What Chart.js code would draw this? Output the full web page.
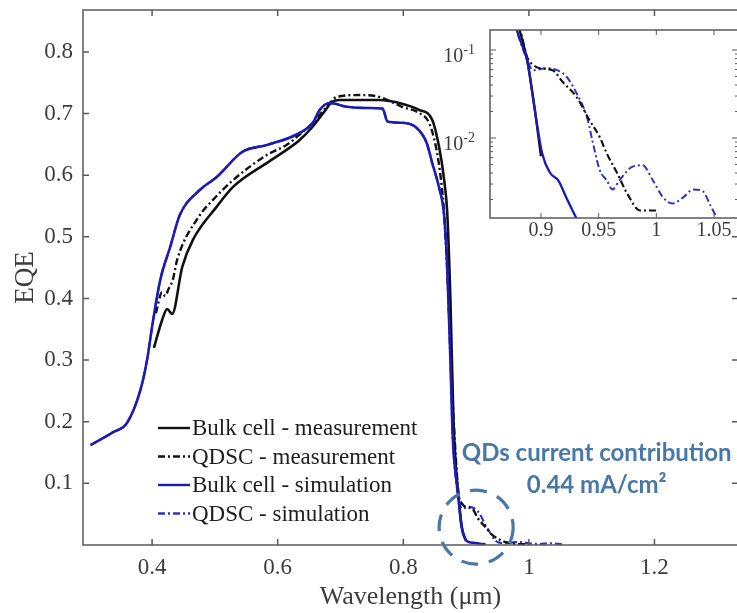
<!DOCTYPE html>
<html>
<head>
<meta charset="utf-8">
<script src="https://cdn.jsdelivr.net/npm/chart.js@4.4.0/dist/chart.umd.min.js"></script>
<style>
  html, body { margin: 0; padding: 0; background: #fff; overflow: hidden; }
  #wrap { position: relative; width: 737px; height: 613px; overflow: hidden; background: #fff; }
  #main { position: absolute; left: 0; top: 0; width: 745px; height: 613px; }
  #inset { position: absolute; left: 400px; top: 0; width: 345px; height: 260px; }
</style>
</head>
<body>
<div id="wrap">
  <canvas id="main" width="745" height="613"></canvas>
  <canvas id="inset" width="345" height="260"></canvas>
</div>
<script>
// tick labels
const xTicks = [0.4, 0.6, 0.8, 1, 1.2];
const yTicks = [0.1, 0.2, 0.3, 0.4, 0.5, 0.6, 0.7, 0.8];
const insetXTicks = [0.9, 0.95, 1, 1.05];
const insetYTicks = [0.1, 0.01];

const seriesNames = ['Bulk cell - measurement', 'QDSC - measurement', 'Bulk cell - simulation', 'QDSC - simulation'];

// wavelength (um) / EQE
const bulkMeasX = [0.403, 0.416, 0.424, 0.432, 0.448, 0.465, 0.503, 0.529, 0.583, 0.614, 0.635, 0.656, 0.672, 0.687, 0.698, 0.762, 0.798, 0.825, 0.846, 0.857, 0.865, 0.87, 0.875, 0.88, 0.888, 0.893, 0.9];
const bulkMeasY = [0.32, 0.365, 0.383, 0.375, 0.451, 0.495, 0.549, 0.581, 0.62, 0.641, 0.657, 0.679, 0.7, 0.719, 0.722, 0.722, 0.716, 0.706, 0.69, 0.646, 0.593, 0.539, 0.4, 0.2, 0.077, 0.03, 0.0062];

const qdscMeasX = [0.406, 0.416, 0.421, 0.426, 0.433, 0.44, 0.476, 0.497, 0.529, 0.583, 0.614, 0.635, 0.656, 0.678, 0.694, 0.73, 0.762, 0.798, 0.825, 0.841, 0.852, 0.86, 0.865, 0.872, 0.878, 0.882, 0.888, 0.893, 0.899, 0.91, 0.919, 0.931, 0.942, 0.951, 0.957, 0.966, 0.975, 0.986, 1.0];
const qdscMeasY = [0.376, 0.41, 0.404, 0.415, 0.43, 0.463, 0.535, 0.56, 0.592, 0.633, 0.649, 0.666, 0.685, 0.711, 0.727, 0.73, 0.727, 0.711, 0.701, 0.685, 0.646, 0.593, 0.539, 0.4, 0.25, 0.17, 0.083, 0.068, 0.062, 0.059, 0.043, 0.029, 0.016, 0.0102, 0.0067, 0.004, 0.0023, 0.0015, 0.0015];

const bulkSimX = [0.302, 0.338, 0.36, 0.381, 0.392, 0.4, 0.413, 0.429, 0.444, 0.476, 0.503, 0.544, 0.583, 0.63, 0.656, 0.667, 0.683, 0.71, 0.746, 0.767, 0.775, 0.798, 0.821, 0.837, 0.846, 0.857, 0.865, 0.87, 0.875, 0.879, 0.884, 0.888, 0.893, 0.901, 0.908, 0.915, 0.922, 0.931];
const bulkSimY = [0.162, 0.183, 0.198, 0.25, 0.3, 0.354, 0.43, 0.484, 0.535, 0.576, 0.597, 0.638, 0.649, 0.666, 0.685, 0.706, 0.717, 0.711, 0.709, 0.708, 0.687, 0.685, 0.677, 0.653, 0.62, 0.58, 0.535, 0.45, 0.3, 0.17, 0.11, 0.077, 0.029, 0.0067, 0.004, 0.0033, 0.0021, 0.0012];

const qdscSimX = [0.302, 0.338, 0.36, 0.381, 0.392, 0.4, 0.413, 0.429, 0.444, 0.476, 0.503, 0.544, 0.583, 0.63, 0.656, 0.667, 0.683, 0.71, 0.746, 0.767, 0.775, 0.798, 0.821, 0.837, 0.846, 0.857, 0.865, 0.87, 0.875, 0.879, 0.884, 0.888, 0.893, 0.905, 0.914, 0.922, 0.931, 0.94, 0.945, 0.951, 0.957, 0.962, 0.968, 0.979, 0.988, 0.997, 1.006, 1.014, 1.023, 1.032, 1.04, 1.047, 1.053];
const qdscSimY = [0.162, 0.183, 0.198, 0.25, 0.3, 0.354, 0.43, 0.484, 0.535, 0.576, 0.597, 0.638, 0.649, 0.666, 0.685, 0.706, 0.717, 0.711, 0.709, 0.708, 0.687, 0.685, 0.677, 0.653, 0.62, 0.58, 0.535, 0.45, 0.3, 0.17, 0.105, 0.077, 0.059, 0.062, 0.059, 0.05, 0.032, 0.017, 0.0088, 0.0043, 0.0033, 0.0026, 0.0033, 0.0047, 0.0049, 0.0033, 0.0021, 0.0018, 0.0021, 0.0026, 0.0025, 0.0017, 0.0012];

const annotationLines = ['QDs current contribution', '0.44 mA/cm²'];

const serif = 'Liberation Serif, Times New Roman, serif';
const tickColor = '#3c3c3c';
const noteColor = '#4a78a6';

const styles = [
  { color: '#111111', dash: [], width: 2.6, order: 1 },
  { color: '#111111', dash: [7, 3, 2, 3], width: 2.4, order: 2 },
  { color: '#1c1cb4', dash: [], width: 2.6, order: 0 },
  { color: '#3030cc', dash: [7, 3, 2, 3], width: 2.2, order: 3 },
];

const pts = (xs, ys) => xs.map((x, i) => ({ x: x, y: ys[i] }));
const series = [pts(bulkMeasX, bulkMeasY), pts(qdscMeasX, qdscMeasY), pts(bulkSimX, bulkSimY), pts(qdscSimX, qdscSimY)];

function makeDatasets(scaleW) {
  return series.map((d, i) => ({
    label: seriesNames[i],
    data: d,
    borderColor: styles[i].color,
    borderDash: styles[i].dash,
    borderWidth: styles[i].width * scaleW,
    pointRadius: 0,
    cubicInterpolationMode: 'monotone',
    order: styles[i].order,
  }));
}

const mainFrame = {
  id: 'mainFrame',
  afterDraw(chart) {
    const { ctx, chartArea: a, scales: { x, y } } = chart;
    ctx.save();
    ctx.strokeStyle = '#5a5a5a';
    ctx.lineWidth = 1.5;
    ctx.strokeRect(a.left, a.top, a.right - a.left, a.bottom - a.top);
    ctx.beginPath();
    xTicks.forEach(v => {
      const px = x.getPixelForValue(v);
      ctx.moveTo(px, a.bottom); ctx.lineTo(px, a.bottom - 6);
      ctx.moveTo(px, a.top); ctx.lineTo(px, a.top + 6);
    });
    yTicks.forEach(v => {
      const py = y.getPixelForValue(v);
      ctx.moveTo(a.left, py); ctx.lineTo(a.left + 6, py);
      ctx.moveTo(a.right, py); ctx.lineTo(a.right - 6, py);
    });
    ctx.stroke();

    // legend
    ctx.font = '23px ' + serif;
    ctx.textBaseline = 'middle';
    ctx.textAlign = 'left';
    seriesNames.forEach((name, i) => {
      const ry = a.bottom - 117 + i * 28.5;
      ctx.strokeStyle = styles[i].color;
      ctx.lineWidth = 2.4;
      ctx.setLineDash(styles[i].dash);
      ctx.beginPath();
      ctx.moveTo(a.left + 75, ry); ctx.lineTo(a.left + 107, ry);
      ctx.stroke();
      ctx.setLineDash([]);
      ctx.fillStyle = '#1e1e1e';
      ctx.fillText(name, a.left + 109, ry + 1);
    });

    // QD annotation
    ctx.strokeStyle = noteColor;
    ctx.lineWidth = 3.2;
    ctx.setLineDash([17, 11]);
    ctx.beginPath();
    ctx.arc(x.getPixelForValue(0.916), y.getPixelForValue(0.029), 37, 0, Math.PI * 2);
    ctx.stroke();
    ctx.setLineDash([]);
    ctx.fillStyle = noteColor;
    ctx.font = 'bold 24px Lato, Open Sans, sans-serif';
    ctx.textAlign = 'center';
    ctx.fillText(annotationLines[0], x.getPixelForValue(1.108), y.getPixelForValue(0.149));
    ctx.fillText(annotationLines[1], x.getPixelForValue(1.108), y.getPixelForValue(0.097));
    ctx.restore();
  }
};

new Chart(document.getElementById('main'), {
  type: 'line',
  data: { datasets: makeDatasets(1) },
  options: {
    responsive: false,
    animation: false,
    layout: { padding: { top: 10, right: 7, left: 0, bottom: 0 } },
    plugins: { legend: { display: false }, tooltip: { enabled: false } },
    scales: {
      x: {
        type: 'linear', min: 0.29, max: 1.333,
        grid: { display: false, drawTicks: false }, border: { display: false },
        afterBuildTicks: s => { s.ticks = xTicks.map(v => ({ value: v })); },
        afterFit: s => { s.height = 68; },
        ticks: { font: { family: serif, size: 23 }, color: tickColor, padding: 9, maxRotation: 0, callback: v => String(v) },
        title: { display: true, text: 'Wavelength (μm)', font: { family: serif, size: 26 }, color: tickColor, padding: { top: 0, bottom: 0 } }
      },
      y: {
        type: 'linear', min: 0, max: 0.868,
        grid: { display: false, drawTicks: false }, border: { display: false },
        afterBuildTicks: s => { s.ticks = yTicks.map(v => ({ value: v })); },
        afterFit: s => { s.width = 83; s.paddingTop = 0; s.paddingBottom = 0; },
        ticks: { font: { family: serif, size: 23 }, color: tickColor, padding: 10, callback: v => v.toFixed(1) },
        title: { display: true, text: 'EQE', font: { family: serif, size: 27 }, color: tickColor, padding: { top: 10, bottom: 0 } }
      }
    }
  },
  plugins: [mainFrame]
});

const insetFrame = {
  id: 'insetFrame',
  beforeDraw(chart) {
    const { ctx, chartArea: a } = chart;
    ctx.save();
    ctx.fillStyle = '#fff';
    ctx.fillRect(a.left, a.top, a.right - a.left, a.bottom - a.top);
    ctx.restore();
  },
  afterDraw(chart) {
    const { ctx, chartArea: a, scales: { x, y } } = chart;
    ctx.save();
    ctx.strokeStyle = '#5a5a5a';
    ctx.lineWidth = 1.5;
    ctx.strokeRect(a.left, a.top, a.right - a.left, a.bottom - a.top);
    ctx.lineWidth = 1;
    ctx.beginPath();
    insetXTicks.forEach(v => {
      const px = x.getPixelForValue(v);
      ctx.moveTo(px, a.bottom); ctx.lineTo(px, a.bottom - 5);
      ctx.moveTo(px, a.top); ctx.lineTo(px, a.top + 5);
    });
    for (let d = -3; d <= -1; d++) {
      for (let k = 1; k <= 9; k++) {
        const v = k * Math.pow(10, d);
        if (v < y.min || v > y.max) continue;
        const py = y.getPixelForValue(v);
        const len = k === 1 ? 6 : 3;
        ctx.moveTo(a.left, py); ctx.lineTo(a.left + len, py);
        ctx.moveTo(a.right, py); ctx.lineTo(a.right - len, py);
      }
    }
    ctx.stroke();

    ctx.fillStyle = tickColor;
    ctx.textAlign = 'center';
    ctx.textBaseline = 'middle';
    ctx.font = '20px ' + serif;
    insetXTicks.forEach(v => ctx.fillText(String(v), x.getPixelForValue(v), a.bottom + 13));

    ctx.textAlign = 'right';
    ctx.textBaseline = 'alphabetic';
    insetYTicks.forEach(v => {
      const py = y.getPixelForValue(v);
      const sup = String(Math.round(Math.log10(v)));
      ctx.font = '14px ' + serif;
      const sw = ctx.measureText(sup).width;
      ctx.fillText(sup, a.left - 15, py + 4);
      ctx.font = '20px ' + serif;
      ctx.fillText('10', a.left - 15 - sw, py + 12);
    });
    ctx.restore();
  }
};

new Chart(document.getElementById('inset'), {
  type: 'line',
  data: { datasets: makeDatasets(0.9) },
  options: {
    responsive: false,
    animation: false,
    layout: { padding: { left: 90, top: 30, right: 7, bottom: 42 } },
    plugins: { legend: { display: false }, tooltip: { enabled: false } },
    scales: {
      x: { type: 'linear', display: false, min: 0.8558, max: 1.0708 },
      y: { type: 'logarithmic', display: false, min: 0.001233, max: 0.1688 }
    }
  },
  plugins: [insetFrame]
});
</script>
</body>
</html>
